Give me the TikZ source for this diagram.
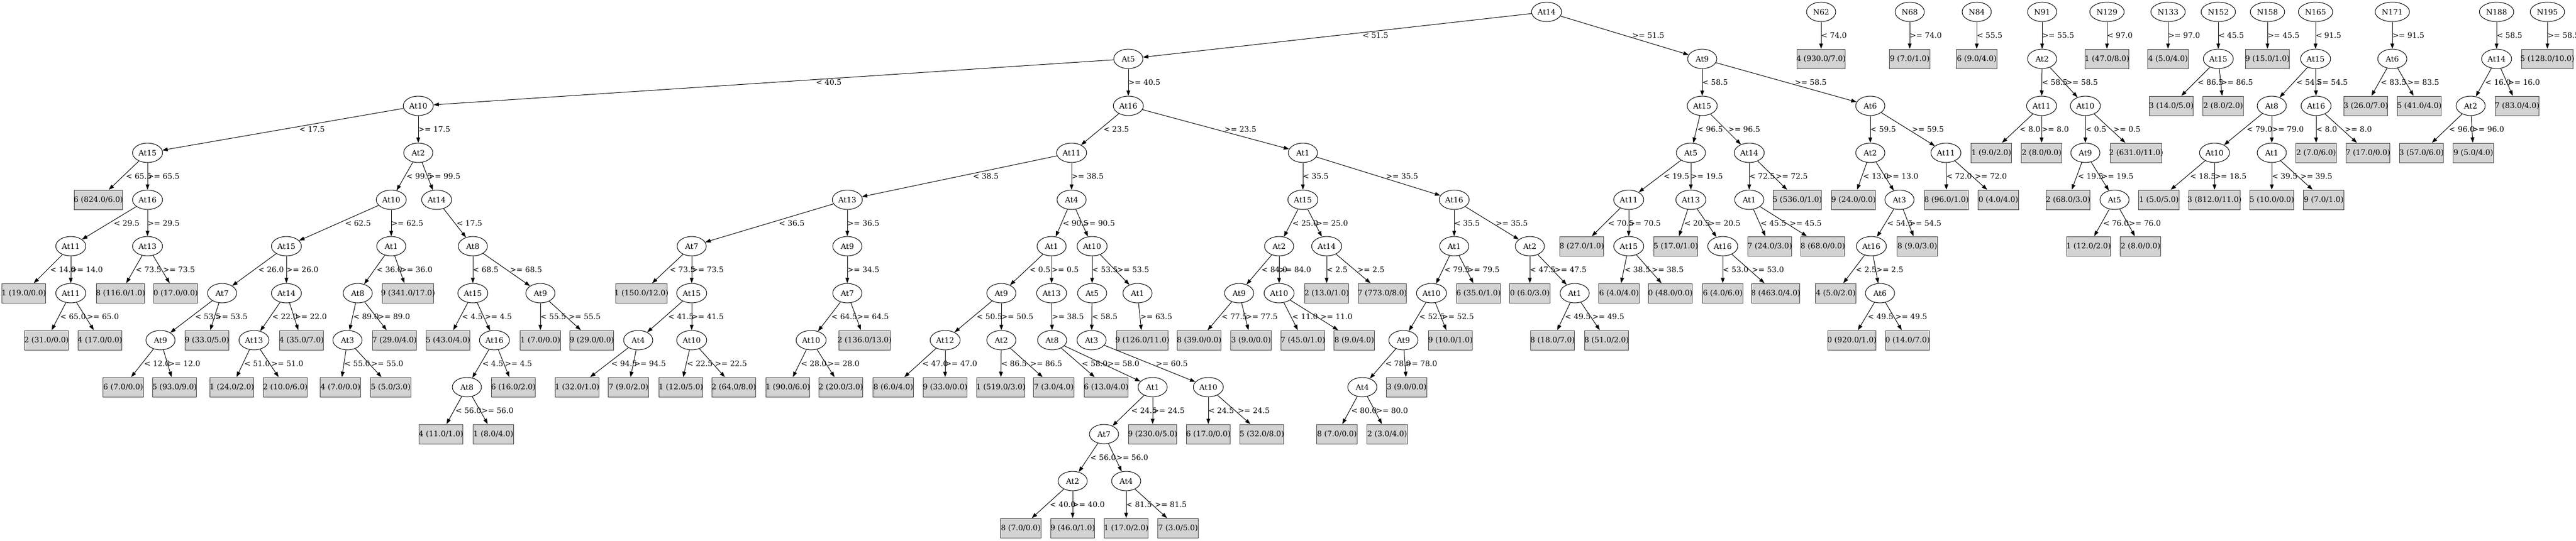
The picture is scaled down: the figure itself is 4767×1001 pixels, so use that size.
\documentclass[tikz,border=0pt]{standalone}
\usepackage{fontspec}
\setmainfont{DejaVu Serif}
\newfontfamily\tmsfont{Liberation Serif}
\usetikzlibrary{shapes.geometric,arrows.meta,calc}
\definecolor{gvgray}{HTML}{D3D3D3}
\newcommand\gvfont{\fontsize{14bp}{17bp}\selectfont}
\newcommand\gvN[4]{\node[ell] (#1) at (#2,#3) {#4};}
\newcommand\gvL[4]{\node[leaf] (#1) at (#2,#3) {\setbox0\hbox{\tmsfont #4}\hbox to \dimexpr\wd0+16bp\relax{\hss #4\hss}};}
\newcommand\gvE[3]{\draw[edge] (#1) -- (#2);
  \path let \p1=(#1.center), \p2=(#2.center), \n1={ifthenelse(\x2<\x1,0.44,0.55)} in
    node[elabel] at ({\x1+\n1*(\x2-\x1)},{0.5*(\y1+\y2)}) {#3};}
\begin{document}
\begin{tikzpicture}[x=1bp,y=-1bp,
  ell/.style={ellipse, draw, line width=1bp, minimum width=54bp, minimum height=36bp, inner xsep=3bp, inner ysep=2bp, font=\gvfont},
  leaf/.style={rectangle, draw=black!75, fill=gvgray, line width=1bp, minimum height=36bp, inner sep=0pt, font=\gvfont},
  edge/.style={line width=1bp, -{Triangle[length=10bp,width=7bp]}},
  elabel/.style={anchor=west, inner sep=0pt, font=\gvfont}]
\useasboundingbox[fill=white] (0,0) rectangle (4767,1001);
% ---------- main tree ----------
\gvN{r}{2862}{22}{At14}
\gvN{a5}{2088}{109}{At5}
\gvN{a10}{774}{196}{At10}
\gvN{a15}{273}{283}{At15}
\gvL{l1}{182}{370}{6 (824.0/6.0)}
\gvN{a16}{273}{370}{At16}
\gvN{a11}{131}{456}{At11}
\gvL{l2}{44}{543}{1 (19.0/0.0)}
\gvN{a11b}{131}{543}{At11}
\gvL{l3}{86}{630}{2 (31.0/0.0)}
\gvL{l4}{185}{630}{4 (17.0/0.0)}
\gvN{a13}{273}{456}{At13}
\gvL{l5}{223}{543}{8 (116.0/1.0)}
\gvL{l6}{325}{543}{0 (17.0/0.0)}
\gvN{a2}{774}{283}{At2}
\gvN{a10b}{724}{370}{At10}
\gvN{a15b}{530}{456}{At15}
\gvN{a7}{411}{543}{At7}
\gvN{a9}{297}{630}{At9}
\gvL{l7}{228}{717}{6 (7.0/0.0)}
\gvL{l8}{323}{717}{5 (93.0/9.0)}
\gvL{l9}{383}{630}{9 (33.0/5.0)}
\gvN{a14}{530}{543}{At14}
\gvN{a13b}{470}{630}{At13}
\gvL{l10}{429}{717}{1 (24.0/2.0)}
\gvL{l11}{528}{717}{2 (10.0/6.0)}
\gvL{l12}{558}{630}{4 (35.0/7.0)}
\gvN{a1}{724}{456}{At1}
\gvN{a8}{662}{543}{At8}
\gvN{a3}{643}{630}{At3}
\gvL{l13}{630}{717}{4 (7.0/0.0)}
\gvL{l14}{723}{717}{5 (5.0/3.0)}
\gvL{l15}{730}{630}{7 (29.0/4.0)}
\gvL{l16}{755}{543}{9 (341.0/17.0)}
\gvN{a14b}{808}{370}{At14}
\gvN{a8b}{875}{456}{At8}
\gvN{a15c}{875}{543}{At15}
\gvL{l17}{829}{630}{5 (43.0/4.0)}
\gvN{a16b}{915}{630}{At16}
\gvN{a8c}{864}{717}{At8}
\gvL{l18}{816}{804}{4 (11.0/1.0)}
\gvL{l19}{913}{804}{1 (8.0/4.0)}
\gvL{l20}{950}{717}{6 (16.0/2.0)}
\gvN{a9b}{1000}{543}{At9}
\gvL{l21}{1000}{630}{1 (7.0/0.0)}
\gvL{l22}{1095}{630}{9 (29.0/0.0)}
\gvN{a16c}{2088}{196}{At16}
\gvN{a11c}{1983}{283}{At11}
\gvN{a13c}{1568}{370}{At13}
\gvN{a7b}{1280}{456}{At7}
\gvL{l23}{1187}{543}{1 (150.0/12.0)}
\gvN{a15d}{1280}{543}{At15}
\gvN{a4}{1181}{630}{At4}
\gvL{l24}{1068}{717}{1 (32.0/1.0)}
\gvL{l25}{1163}{717}{7 (9.0/2.0)}
\gvN{a10c}{1280}{630}{At10}
\gvL{l26}{1260}{717}{1 (12.0/5.0)}
\gvL{l27}{1358}{717}{2 (64.0/8.0)}
\gvN{a9c}{1568}{456}{At9}
\gvN{a7c}{1568}{543}{At7}
\gvN{a10d}{1501}{630}{At10}
\gvL{l28}{1458}{717}{1 (90.0/6.0)}
\gvL{l29}{1556}{717}{2 (20.0/3.0)}
\gvL{l30}{1600}{630}{2 (136.0/13.0)}
\gvN{a4b}{1983}{370}{At4}
\gvN{a1b}{1946}{456}{At1}
\gvN{a9d}{1853}{543}{At9}
\gvN{a12}{1749}{630}{At12}
\gvL{l31}{1653}{717}{8 (6.0/4.0)}
\gvL{l32}{1749}{717}{9 (33.0/0.0)}
\gvN{a2b}{1853}{630}{At2}
\gvL{l33}{1852}{717}{1 (519.0/3.0)}
\gvL{l34}{1950}{717}{7 (3.0/4.0)}
\gvN{a13d}{1946}{543}{At13}
\gvN{a8d}{1947}{630}{At8}
\gvL{l35}{2047}{717}{6 (13.0/4.0)}
\gvN{a1c}{2133}{717}{At1}
\gvN{a7d}{2043}{804}{At7}
\gvN{a2c}{1985}{891}{At2}
\gvL{l36}{1889}{978}{8 (7.0/0.0)}
\gvL{l37}{1985}{978}{9 (46.0/1.0)}
\gvN{a4c}{2084}{891}{At4}
\gvL{l38}{2084}{978}{1 (17.0/2.0)}
\gvL{l39}{2180}{978}{7 (3.0/5.0)}
\gvL{l40}{2133}{804}{9 (230.0/5.0)}
\gvN{a10e}{2021}{456}{At10}
\gvN{a5b}{2021}{543}{At5}
\gvN{a3b}{2020}{630}{At3}
\gvN{a10f}{2236}{717}{At10}
\gvL{l41}{2236}{804}{6 (17.0/0.0)}
\gvL{l42}{2335}{804}{5 (32.0/8.0)}
\gvN{a1d}{2105}{543}{At1}
\gvL{l43}{2114}{630}{9 (126.0/11.0)}
\gvN{a1e}{2411}{283}{At1}
\gvN{a15e}{2411}{370}{At15}
\gvN{a2d}{2367}{456}{At2}
\gvN{a9e}{2293}{543}{At9}
\gvL{l44}{2219}{630}{8 (39.0/0.0)}
\gvL{l45}{2315}{630}{3 (9.0/0.0)}
\gvN{a10g}{2367}{543}{At10}
\gvL{l46}{2411}{630}{7 (45.0/1.0)}
\gvL{l47}{2506}{630}{8 (9.0/4.0)}
\gvN{a14c}{2455}{456}{At14}
\gvL{l48}{2455}{543}{2 (13.0/1.0)}
\gvL{l49}{2558}{543}{7 (773.0/8.0)}
\gvN{a16d}{2691}{370}{At16}
\gvN{a1f}{2691}{456}{At1}
\gvN{a10h}{2649}{543}{At10}
\gvN{a9f}{2597}{630}{At9}
\gvN{a4d}{2521}{717}{At4}
\gvL{l50}{2474}{804}{8 (7.0/0.0)}
\gvL{l51}{2567}{804}{2 (3.0/4.0)}
\gvL{l52}{2603}{717}{3 (9.0/0.0)}
\gvL{l53}{2684}{630}{9 (10.0/1.0)}
\gvL{l54}{2736}{543}{6 (35.0/1.0)}
\gvN{a2e}{2831}{456}{At2}
\gvL{l55}{2831}{543}{0 (6.0/3.0)}
\gvN{a1g}{2914}{543}{At1}
\gvL{l56}{2873}{630}{8 (18.0/7.0)}
\gvL{l57}{2973}{630}{8 (51.0/2.0)}
\gvN{a9g}{3150}{109}{At9}
\gvN{a15f}{3150}{196}{At15}
\gvN{a5c}{3129}{283}{At5}
\gvN{a11d}{3014}{370}{At11}
\gvL{l59}{2927}{456}{8 (27.0/1.0)}
\gvN{a15g}{3014}{456}{At15}
\gvL{l58}{2996}{543}{6 (4.0/4.0)}
\gvL{l60}{3091}{543}{0 (48.0/0.0)}
\gvN{a13e}{3129}{370}{At13}
\gvL{l61}{3101}{456}{5 (17.0/1.0)}
\gvN{a16e}{3188}{456}{At16}
\gvL{l62}{3188}{543}{6 (4.0/6.0)}
\gvL{l63}{3286}{543}{8 (463.0/4.0)}
\gvN{a14d}{3237}{283}{At14}
\gvN{a1h}{3237}{370}{At1}
\gvL{l64}{3275}{456}{7 (24.0/3.0)}
\gvL{l65}{3373}{456}{8 (68.0/0.0)}
\gvL{l66}{3326}{370}{5 (536.0/1.0)}
\gvN{a6}{3461}{196}{At6}
\gvN{a2f}{3461}{283}{At2}
\gvL{l67}{3430}{370}{9 (24.0/0.0)}
\gvN{a3c}{3515}{370}{At3}
\gvN{a16f}{3463}{456}{At16}
\gvL{l68}{3397}{543}{4 (5.0/2.0)}
\gvN{a6b}{3479}{543}{At6}
\gvL{l69}{3427}{630}{0 (920.0/1.0)}
\gvL{l70}{3530}{630}{0 (14.0/7.0)}
\gvL{l71}{3548}{456}{8 (9.0/3.0)}
\gvN{a11e}{3601}{283}{At11}
\gvL{l72}{3602}{370}{8 (96.0/1.0)}
\gvL{l73}{3698}{370}{0 (4.0/4.0)}
% ---------- small trees ----------
\gvN{n62}{3370}{22}{N62}
\gvL{l74}{3370}{109}{4 (930.0/7.0)}
\gvN{n68}{3534}{22}{N68}
\gvL{l75}{3534}{109}{9 (7.0/1.0)}
\gvN{n84}{3658}{22}{N84}
\gvL{l76}{3658}{109}{6 (9.0/4.0)}
\gvN{n91}{3779}{22}{N91}
\gvN{a2g}{3779}{109}{At2}
\gvN{a11f}{3778}{196}{At11}
\gvL{l77}{3685}{283}{1 (9.0/2.0)}
\gvL{l78}{3778}{283}{2 (8.0/0.0)}
\gvN{a10i}{3859}{196}{At10}
\gvN{a9h}{3859}{283}{At9}
\gvL{l79}{3827}{370}{2 (68.0/3.0)}
\gvN{a5d}{3913}{370}{At5}
\gvL{l80}{3865}{456}{1 (12.0/2.0)}
\gvL{l81}{3961}{456}{2 (8.0/0.0)}
\gvL{l82}{3953}{283}{2 (631.0/11.0)}
\gvN{n129}{3899}{22}{N129}
\gvL{l83}{3899}{109}{1 (47.0/8.0)}
\gvN{n133}{4012}{22}{N133}
\gvL{l84}{4012}{109}{4 (5.0/4.0)}
\gvN{n152}{4105}{22}{N152}
\gvN{a15h}{4105}{109}{At15}
\gvL{l85}{4018}{196}{3 (14.0/5.0)}
\gvL{l86}{4114}{196}{2 (8.0/2.0)}
\gvN{n158}{4196}{22}{N158}
\gvL{l87}{4196}{109}{9 (15.0/1.0)}
\gvN{n165}{4285}{22}{N165}
\gvN{a15i}{4285}{109}{At15}
\gvN{a8e}{4204}{196}{At8}
\gvN{a10j}{4098}{283}{At10}
\gvL{l88}{3995}{370}{1 (5.0/5.0)}
\gvL{l89}{4098}{370}{3 (812.0/11.0)}
\gvN{a1i}{4204}{283}{At1}
\gvL{l90}{4204}{370}{5 (10.0/0.0)}
\gvL{l91}{4300}{370}{9 (7.0/1.0)}
\gvN{a16g}{4286}{196}{At16}
\gvL{l92}{4286}{283}{2 (7.0/6.0)}
\gvL{l93}{4382}{283}{7 (17.0/0.0)}
\gvN{n171}{4427}{22}{N171}
\gvN{a6c}{4427}{109}{At6}
\gvL{l94}{4378}{196}{3 (26.0/7.0)}
\gvL{l95}{4477}{196}{5 (41.0/4.0)}
\gvN{n188}{4620}{22}{N188}
\gvN{a14e}{4620}{109}{At14}
\gvN{a2h}{4572}{196}{At2}
\gvL{l96}{4481}{283}{3 (57.0/6.0)}
\gvL{l97}{4577}{283}{9 (5.0/4.0)}
\gvL{l98}{4658}{196}{7 (83.0/4.0)}
\gvN{n195}{4714}{22}{N195}
\gvL{l99}{4714}{109}{5 (128.0/10.0)}
% ---------- edges ----------
\gvE{r}{a5}{< 51.5}\gvE{r}{a9g}{>= 51.5}
\gvE{a5}{a10}{< 40.5}\gvE{a5}{a16c}{>= 40.5}
\gvE{a10}{a15}{< 17.5}\gvE{a10}{a2}{>= 17.5}
\gvE{a15}{l1}{< 65.5}\gvE{a15}{a16}{>= 65.5}
\gvE{a16}{a11}{< 29.5}\gvE{a16}{a13}{>= 29.5}
\gvE{a11}{l2}{< 14.0}\gvE{a11}{a11b}{>= 14.0}
\gvE{a11b}{l3}{< 65.0}\gvE{a11b}{l4}{>= 65.0}
\gvE{a13}{l5}{< 73.5}\gvE{a13}{l6}{>= 73.5}
\gvE{a2}{a10b}{< 99.5}\gvE{a2}{a14b}{>= 99.5}
\gvE{a10b}{a15b}{< 62.5}\gvE{a10b}{a1}{>= 62.5}
\gvE{a15b}{a7}{< 26.0}\gvE{a15b}{a14}{>= 26.0}
\gvE{a7}{a9}{< 53.5}\gvE{a7}{l9}{>= 53.5}
\gvE{a9}{l7}{< 12.0}\gvE{a9}{l8}{>= 12.0}
\gvE{a14}{a13b}{< 22.0}\gvE{a14}{l12}{>= 22.0}
\gvE{a13b}{l10}{< 51.0}\gvE{a13b}{l11}{>= 51.0}
\gvE{a1}{a8}{< 36.0}\gvE{a1}{l16}{>= 36.0}
\gvE{a8}{a3}{< 89.0}\gvE{a8}{l15}{>= 89.0}
\gvE{a3}{l13}{< 55.0}\gvE{a3}{l14}{>= 55.0}
\gvE{a14b}{a8b}{< 17.5}
\gvE{a8b}{a15c}{< 68.5}\gvE{a8b}{a9b}{>= 68.5}
\gvE{a15c}{l17}{< 4.5}\gvE{a15c}{a16b}{>= 4.5}
\gvE{a16b}{a8c}{< 4.5}\gvE{a16b}{l20}{>= 4.5}
\gvE{a8c}{l18}{< 56.0}\gvE{a8c}{l19}{>= 56.0}
\gvE{a9b}{l21}{< 55.5}\gvE{a9b}{l22}{>= 55.5}
\gvE{a16c}{a11c}{< 23.5}\gvE{a16c}{a1e}{>= 23.5}
\gvE{a11c}{a13c}{< 38.5}\gvE{a11c}{a4b}{>= 38.5}
\gvE{a13c}{a7b}{< 36.5}\gvE{a13c}{a9c}{>= 36.5}
\gvE{a7b}{l23}{< 73.5}\gvE{a7b}{a15d}{>= 73.5}
\gvE{a15d}{a4}{< 41.5}\gvE{a15d}{a10c}{>= 41.5}
\gvE{a4}{l24}{< 94.5}\gvE{a4}{l25}{>= 94.5}
\gvE{a10c}{l26}{< 22.5}\gvE{a10c}{l27}{>= 22.5}
\gvE{a9c}{a7c}{>= 34.5}
\gvE{a7c}{a10d}{< 64.5}\gvE{a7c}{l30}{>= 64.5}
\gvE{a10d}{l28}{< 28.0}\gvE{a10d}{l29}{>= 28.0}
\gvE{a4b}{a1b}{< 90.5}\gvE{a4b}{a10e}{>= 90.5}
\gvE{a1b}{a9d}{< 0.5}\gvE{a1b}{a13d}{>= 0.5}
\gvE{a9d}{a12}{< 50.5}\gvE{a9d}{a2b}{>= 50.5}
\gvE{a12}{l31}{< 47.0}\gvE{a12}{l32}{>= 47.0}
\gvE{a2b}{l33}{< 86.5}\gvE{a2b}{l34}{>= 86.5}
\gvE{a13d}{a8d}{>= 38.5}
\gvE{a8d}{l35}{< 58.0}\gvE{a8d}{a1c}{>= 58.0}
\gvE{a1c}{a7d}{< 24.5}\gvE{a1c}{l40}{>= 24.5}
\gvE{a7d}{a2c}{< 56.0}\gvE{a7d}{a4c}{>= 56.0}
\gvE{a2c}{l36}{< 40.0}\gvE{a2c}{l37}{>= 40.0}
\gvE{a4c}{l38}{< 81.5}\gvE{a4c}{l39}{>= 81.5}
\gvE{a10e}{a5b}{< 53.5}\gvE{a10e}{a1d}{>= 53.5}
\gvE{a5b}{a3b}{< 58.5}
\gvE{a3b}{a10f}{>= 60.5}
\gvE{a10f}{l41}{< 24.5}\gvE{a10f}{l42}{>= 24.5}
\gvE{a1d}{l43}{>= 63.5}
\gvE{a1e}{a15e}{< 35.5}\gvE{a1e}{a16d}{>= 35.5}
\gvE{a15e}{a2d}{< 25.0}\gvE{a15e}{a14c}{>= 25.0}
\gvE{a2d}{a9e}{< 84.0}\gvE{a2d}{a10g}{>= 84.0}
\gvE{a9e}{l44}{< 77.5}\gvE{a9e}{l45}{>= 77.5}
\gvE{a10g}{l46}{< 11.0}\gvE{a10g}{l47}{>= 11.0}
\gvE{a14c}{l48}{< 2.5}\gvE{a14c}{l49}{>= 2.5}
\gvE{a16d}{a1f}{< 35.5}\gvE{a16d}{a2e}{>= 35.5}
\gvE{a1f}{a10h}{< 79.5}\gvE{a1f}{l54}{>= 79.5}
\gvE{a10h}{a9f}{< 52.5}\gvE{a10h}{l53}{>= 52.5}
\gvE{a9f}{a4d}{< 78.0}\gvE{a9f}{l52}{>= 78.0}
\gvE{a4d}{l50}{< 80.0}\gvE{a4d}{l51}{>= 80.0}
\gvE{a2e}{l55}{< 47.5}\gvE{a2e}{a1g}{>= 47.5}
\gvE{a1g}{l56}{< 49.5}\gvE{a1g}{l57}{>= 49.5}
\gvE{a9g}{a15f}{< 58.5}\gvE{a9g}{a6}{>= 58.5}
\gvE{a15f}{a5c}{< 96.5}\gvE{a15f}{a14d}{>= 96.5}
\gvE{a5c}{a11d}{< 19.5}\gvE{a5c}{a13e}{>= 19.5}
\gvE{a11d}{l59}{< 70.5}\gvE{a11d}{a15g}{>= 70.5}
\gvE{a15g}{l58}{< 38.5}\gvE{a15g}{l60}{>= 38.5}
\gvE{a13e}{l61}{< 20.5}\gvE{a13e}{a16e}{>= 20.5}
\gvE{a16e}{l62}{< 53.0}\gvE{a16e}{l63}{>= 53.0}
\gvE{a14d}{a1h}{< 72.5}\gvE{a14d}{l66}{>= 72.5}
\gvE{a1h}{l64}{< 45.5}\gvE{a1h}{l65}{>= 45.5}
\gvE{a6}{a2f}{< 59.5}\gvE{a6}{a11e}{>= 59.5}
\gvE{a2f}{l67}{< 13.0}\gvE{a2f}{a3c}{>= 13.0}
\gvE{a3c}{a16f}{< 54.5}\gvE{a3c}{l71}{>= 54.5}
\gvE{a16f}{l68}{< 2.5}\gvE{a16f}{a6b}{>= 2.5}
\gvE{a6b}{l69}{< 49.5}\gvE{a6b}{l70}{>= 49.5}
\gvE{a11e}{l72}{< 72.0}\gvE{a11e}{l73}{>= 72.0}
\gvE{n62}{l74}{< 74.0}
\gvE{n68}{l75}{>= 74.0}
\gvE{n84}{l76}{< 55.5}
\gvE{n91}{a2g}{>= 55.5}
\gvE{a2g}{a11f}{< 58.5}\gvE{a2g}{a10i}{>= 58.5}
\gvE{a11f}{l77}{< 8.0}\gvE{a11f}{l78}{>= 8.0}
\gvE{a10i}{a9h}{< 0.5}\gvE{a10i}{l82}{>= 0.5}
\gvE{a9h}{l79}{< 19.5}\gvE{a9h}{a5d}{>= 19.5}
\gvE{a5d}{l80}{< 76.0}\gvE{a5d}{l81}{>= 76.0}
\gvE{n129}{l83}{< 97.0}
\gvE{n133}{l84}{>= 97.0}
\gvE{n152}{a15h}{< 45.5}
\gvE{a15h}{l85}{< 86.5}\gvE{a15h}{l86}{>= 86.5}
\gvE{n158}{l87}{>= 45.5}
\gvE{n165}{a15i}{< 91.5}
\gvE{a15i}{a8e}{< 54.5}\gvE{a15i}{a16g}{>= 54.5}
\gvE{a8e}{a10j}{< 79.0}\gvE{a8e}{a1i}{>= 79.0}
\gvE{a10j}{l88}{< 18.5}\gvE{a10j}{l89}{>= 18.5}
\gvE{a1i}{l90}{< 39.5}\gvE{a1i}{l91}{>= 39.5}
\gvE{a16g}{l92}{< 8.0}\gvE{a16g}{l93}{>= 8.0}
\gvE{n171}{a6c}{>= 91.5}
\gvE{a6c}{l94}{< 83.5}\gvE{a6c}{l95}{>= 83.5}
\gvE{n188}{a14e}{< 58.5}
\gvE{a14e}{a2h}{< 16.0}\gvE{a14e}{l98}{>= 16.0}
\gvE{a2h}{l96}{< 96.0}\gvE{a2h}{l97}{>= 96.0}
\gvE{n195}{l99}{>= 58.5}
\end{tikzpicture}
\end{document}
